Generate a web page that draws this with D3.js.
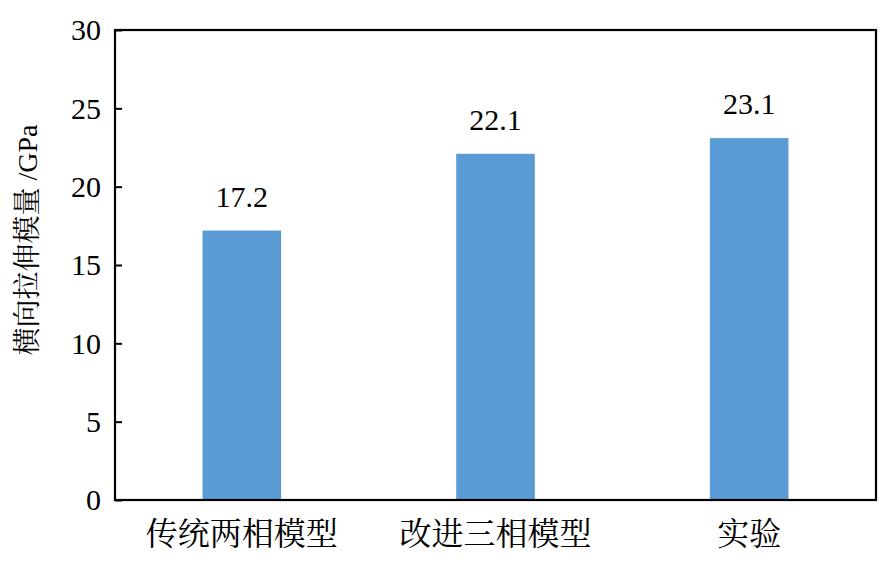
<!DOCTYPE html>
<html><head><meta charset="utf-8">
<script src="https://cdn.jsdelivr.net/npm/d3@7"></script>
<style>body{margin:0;background:#fff}</style>
</head><body>
<svg id="c" width="894" height="563"></svg>
<script>
const categories = ["传统两相模型", "改进三相模型", "实验"];
const values = [17.2, 22.1, 23.1];
const yTicks = [0, 5, 10, 15, 20, 25, 30];
const yLabel = "横向拉伸模量 /GPa";

const svg = d3.select("#c");
const m = {left:115, top:30, right:876, bottom:500};
const font = "'Liberation Serif','Times New Roman','Noto Serif CJK SC','Noto Sans CJK SC',serif";

const x = d3.scaleBand().domain(categories).range([m.left, m.right]).paddingInner(0.69).paddingOuter(0.345);
const y = d3.scaleLinear().domain([0, 30]).range([m.bottom, m.top]);

svg.selectAll("rect.bar").data(values).enter().append("rect")
  .attr("class","bar")
  .attr("x",(d,i)=>x(categories[i]))
  .attr("width",x.bandwidth())
  .attr("y",d=>y(d))
  .attr("height",d=>y(0)-y(d))
  .attr("fill","#5b9bd5");

svg.selectAll("text.val").data(values).enter().append("text")
  .attr("x",(d,i)=>x(categories[i])+x.bandwidth()/2)
  .attr("y",d=>y(d)-24)
  .attr("text-anchor","middle")
  .attr("font-family",font).attr("font-size",30).attr("fill","#000")
  .text(d=>d.toFixed(1));

// frame
svg.append("rect").attr("x",m.left).attr("y",m.top).attr("width",m.right-m.left).attr("height",m.bottom-m.top)
  .attr("fill","none").attr("stroke","#000").attr("stroke-width",2.2);

const yAxis = d3.axisLeft(y).tickValues(yTicks).tickSizeInner(-7).tickSizeOuter(0).tickPadding(14);
const gy = svg.append("g").attr("transform",`translate(${m.left},0)`).call(yAxis);
gy.select(".domain").remove();
gy.selectAll("line").attr("stroke","#000").attr("stroke-width",2);
gy.selectAll("text").attr("font-family",font).attr("font-size",30).attr("fill","#000").attr("dy","0.33em");

const xAxis = d3.axisBottom(x).tickSize(0).tickPadding(22);
const gx = svg.append("g").attr("transform",`translate(0,${m.bottom})`).call(xAxis);
gx.select(".domain").remove();
gx.selectAll("text").attr("font-family",font).attr("font-size",32).attr("fill","#000").attr("dy","0.72em");

svg.append("text").attr("transform",`translate(37,${(m.top+m.bottom)/2 - 25}) rotate(-90)`)
  .attr("text-anchor","middle").attr("font-family",font).attr("font-size",28).attr("fill","#000")
  .text(yLabel);
</script>
</body></html>
